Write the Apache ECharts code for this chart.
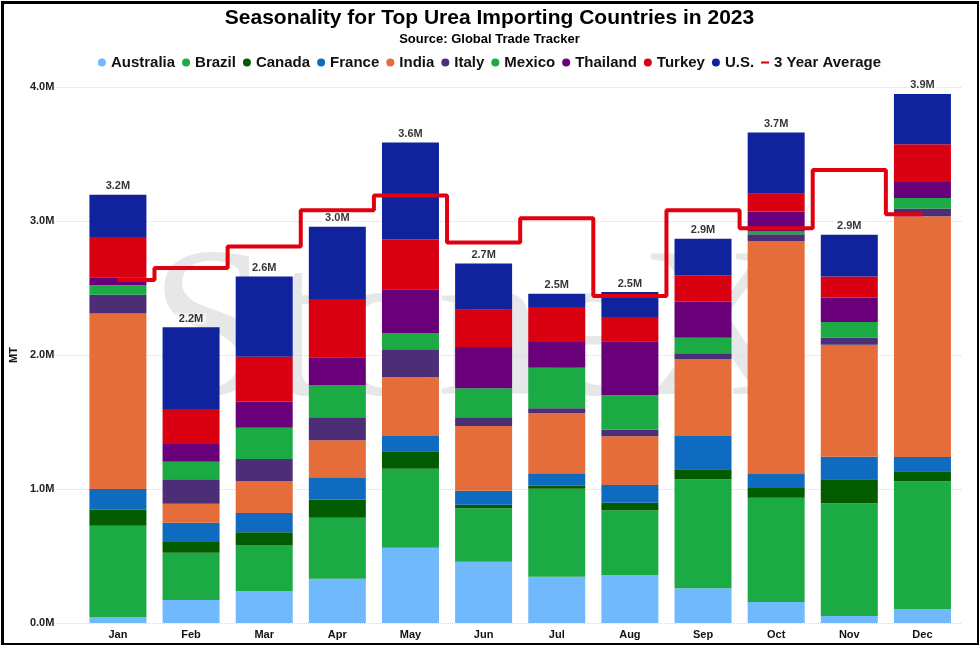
<!DOCTYPE html>
<html lang="en">
<head>
<meta charset="UTF-8">
<title>Seasonality for Top Urea Importing Countries in 2023</title>
<style>
  html, body { margin: 0; padding: 0; background: #fff; }
  #main { width: 979px; height: 645px; }
</style>
</head>
<body>
<div id="main"></div>
<script src="https://cdn.jsdelivr.net/npm/echarts@6/dist/echarts.min.js"></script>
<script>
// values in million MT
const months = ['Jan', 'Feb', 'Mar', 'Apr', 'May', 'Jun', 'Jul', 'Aug', 'Sep', 'Oct', 'Nov', 'Dec'];
const australia = [0.045, 0.172, 0.239, 0.331, 0.562, 0.458, 0.346, 0.358, 0.259, 0.156, 0.052, 0.102];
const brazil    = [0.680, 0.353, 0.343, 0.455, 0.589, 0.398, 0.656, 0.483, 0.813, 0.779, 0.841, 0.955];
const canada    = [0.120, 0.079, 0.095, 0.134, 0.130, 0.027, 0.023, 0.057, 0.075, 0.072, 0.179, 0.075];
const france    = [0.155, 0.145, 0.144, 0.162, 0.115, 0.104, 0.092, 0.132, 0.249, 0.105, 0.169, 0.107];
const india     = [1.310, 0.141, 0.239, 0.281, 0.438, 0.483, 0.448, 0.363, 0.572, 1.739, 0.836, 1.796];
const italy     = [0.140, 0.182, 0.164, 0.172, 0.208, 0.065, 0.037, 0.050, 0.045, 0.050, 0.053, 0.059];
const mexico    = [0.070, 0.132, 0.234, 0.241, 0.122, 0.216, 0.303, 0.256, 0.116, 0.020, 0.116, 0.078];
const thailand  = [0.060, 0.132, 0.194, 0.207, 0.326, 0.309, 0.192, 0.403, 0.269, 0.150, 0.182, 0.119];
const turkey    = [0.300, 0.261, 0.335, 0.435, 0.373, 0.278, 0.261, 0.182, 0.197, 0.132, 0.157, 0.281];
const us        = [0.315, 0.610, 0.598, 0.540, 0.722, 0.344, 0.099, 0.186, 0.273, 0.457, 0.313, 0.376];
const avg3y     = [2.56, 2.65, 2.81, 3.08, 3.19, 2.84, 3.02, 2.44, 3.08, 2.945, 3.38, 3.05];

const countryNames = ['Australia', 'Brazil', 'Canada', 'France', 'India', 'Italy', 'Mexico', 'Thailand', 'Turkey', 'U.S.'];
const countryValues = [australia, brazil, canada, france, india, italy, mexico, thailand, turkey, us];
const countryColors = ['#70b9fd', '#1caa44', '#035b00', '#0f6bbf', '#e56d3a', '#4c2e77', '#1caa44', '#6a0079', '#d80011', '#11239c'];

const totals = months.map((m, i) => countryValues.reduce((s, arr) => s + arr[i], 0));

var chartDom = document.getElementById('main');
var myChart = echarts.init(chartDom);
var option;

const font = 'Arial, "Liberation Sans", sans-serif';

const series = countryNames.map(function (name, k) {
  return {
    name: name,
    type: 'bar',
    stack: 'total',
    barWidth: 57,
    itemStyle: { color: countryColors[k] },
    data: countryValues[k]
  };
});

series.push({
  name: '3 Year Average',
  type: 'line',
  step: 'middle',
  symbol: 'none',
  z: 5,
  lineStyle: { color: '#e0000f', width: 4 },
  itemStyle: { color: '#e0000f' },
  data: avg3y
});

// total labels above every bar
series.push({
  name: 'Total',
  type: 'scatter',
  symbolSize: 0,
  z: 10,
  silent: true,
  label: {
    show: true,
    position: 'top',
    distance: 3,
    color: '#000',
    fontFamily: font,
    fontWeight: 'bold',
    fontSize: 11,
    backgroundColor: 'rgba(255,255,255,0.65)',
    padding: [0, 3],
    formatter: function (p) { return p.value.toFixed(1) + 'M'; }
  },
  data: totals
});

option = {
  animation: false,
  title: {
    text: 'Seasonality for Top Urea Importing Countries in 2023',
    subtext: 'Source: Global Trade Tracker',
    left: 'center',
    top: 3,
    itemGap: 4,
    textStyle: { fontFamily: font, fontWeight: 'bold', fontSize: 21, color: '#000' },
    subtextStyle: { fontFamily: font, fontWeight: 'bold', fontSize: 13, color: '#000' }
  },
  legend: {
    top: 50,
    left: 'center',
    itemWidth: 8,
    itemHeight: 8,
    itemGap: 7,
    textStyle: { fontFamily: font, fontWeight: 'bold', fontSize: 15, color: '#111' },
    data: countryNames.map(function (n) { return { name: n, icon: 'circle' }; })
      .concat([{ name: '3 Year Average', icon: 'path://M0,0h10v2.6h-10z' }])
  },
  graphic: [
    {
      type: 'text',
      left: 150,
      top: 230,
      z: 0,
      silent: true,
      style: {
        text: 'StoneX',
        fill: '#e6e7e9',
        font: 'normal 215px "Liberation Serif", serif'
      }
    },
    {
      type: 'rect',
      left: 0,
      top: 0,
      z: 100,
      silent: true,
      shape: { x: 1, y: 1, width: 976, height: 642 },
      style: { fill: 'none', stroke: '#000', lineWidth: 3 }
    }
  ],
  grid: [
    { left: 71, right: 20, top: 87, bottom: 22 },
    { left: 52, right: 17, top: 87, bottom: 22 }
  ],
  xAxis: [
    {
      type: 'category',
      data: months,
      gridIndex: 0,
      axisLine: { show: false },
      axisTick: { show: false },
      axisLabel: { color: '#111', fontFamily: font, fontWeight: 'bold', fontSize: 11, margin: 6 }
    },
    { type: 'value', gridIndex: 1, show: false, min: 0, max: 1 }
  ],
  yAxis: [
    {
      type: 'value',
      gridIndex: 0,
      min: 0,
      max: 4,
      interval: 1,
      name: 'MT',
      nameLocation: 'middle',
      nameRotate: 90,
      nameGap: 58,
      nameTextStyle: { color: '#111', fontFamily: font, fontWeight: 'bold', fontSize: 11 },
      splitLine: { show: false },
      axisLabel: {
        color: '#222', fontFamily: font, fontWeight: 'bold', fontSize: 11, margin: 27,
        formatter: function (v) { return v.toFixed(1) + 'M'; }
      }
    },
    {
      type: 'value',
      gridIndex: 1,
      min: 0,
      max: 4,
      interval: 1,
      axisLabel: { show: false },
      axisLine: { show: false },
      axisTick: { show: false },
      splitLine: { lineStyle: { color: '#d9d9d9', type: 'dotted', width: 1 } }
    }
  ],
  series: series
};

option && myChart.setOption(option);
</script>
</body>
</html>
